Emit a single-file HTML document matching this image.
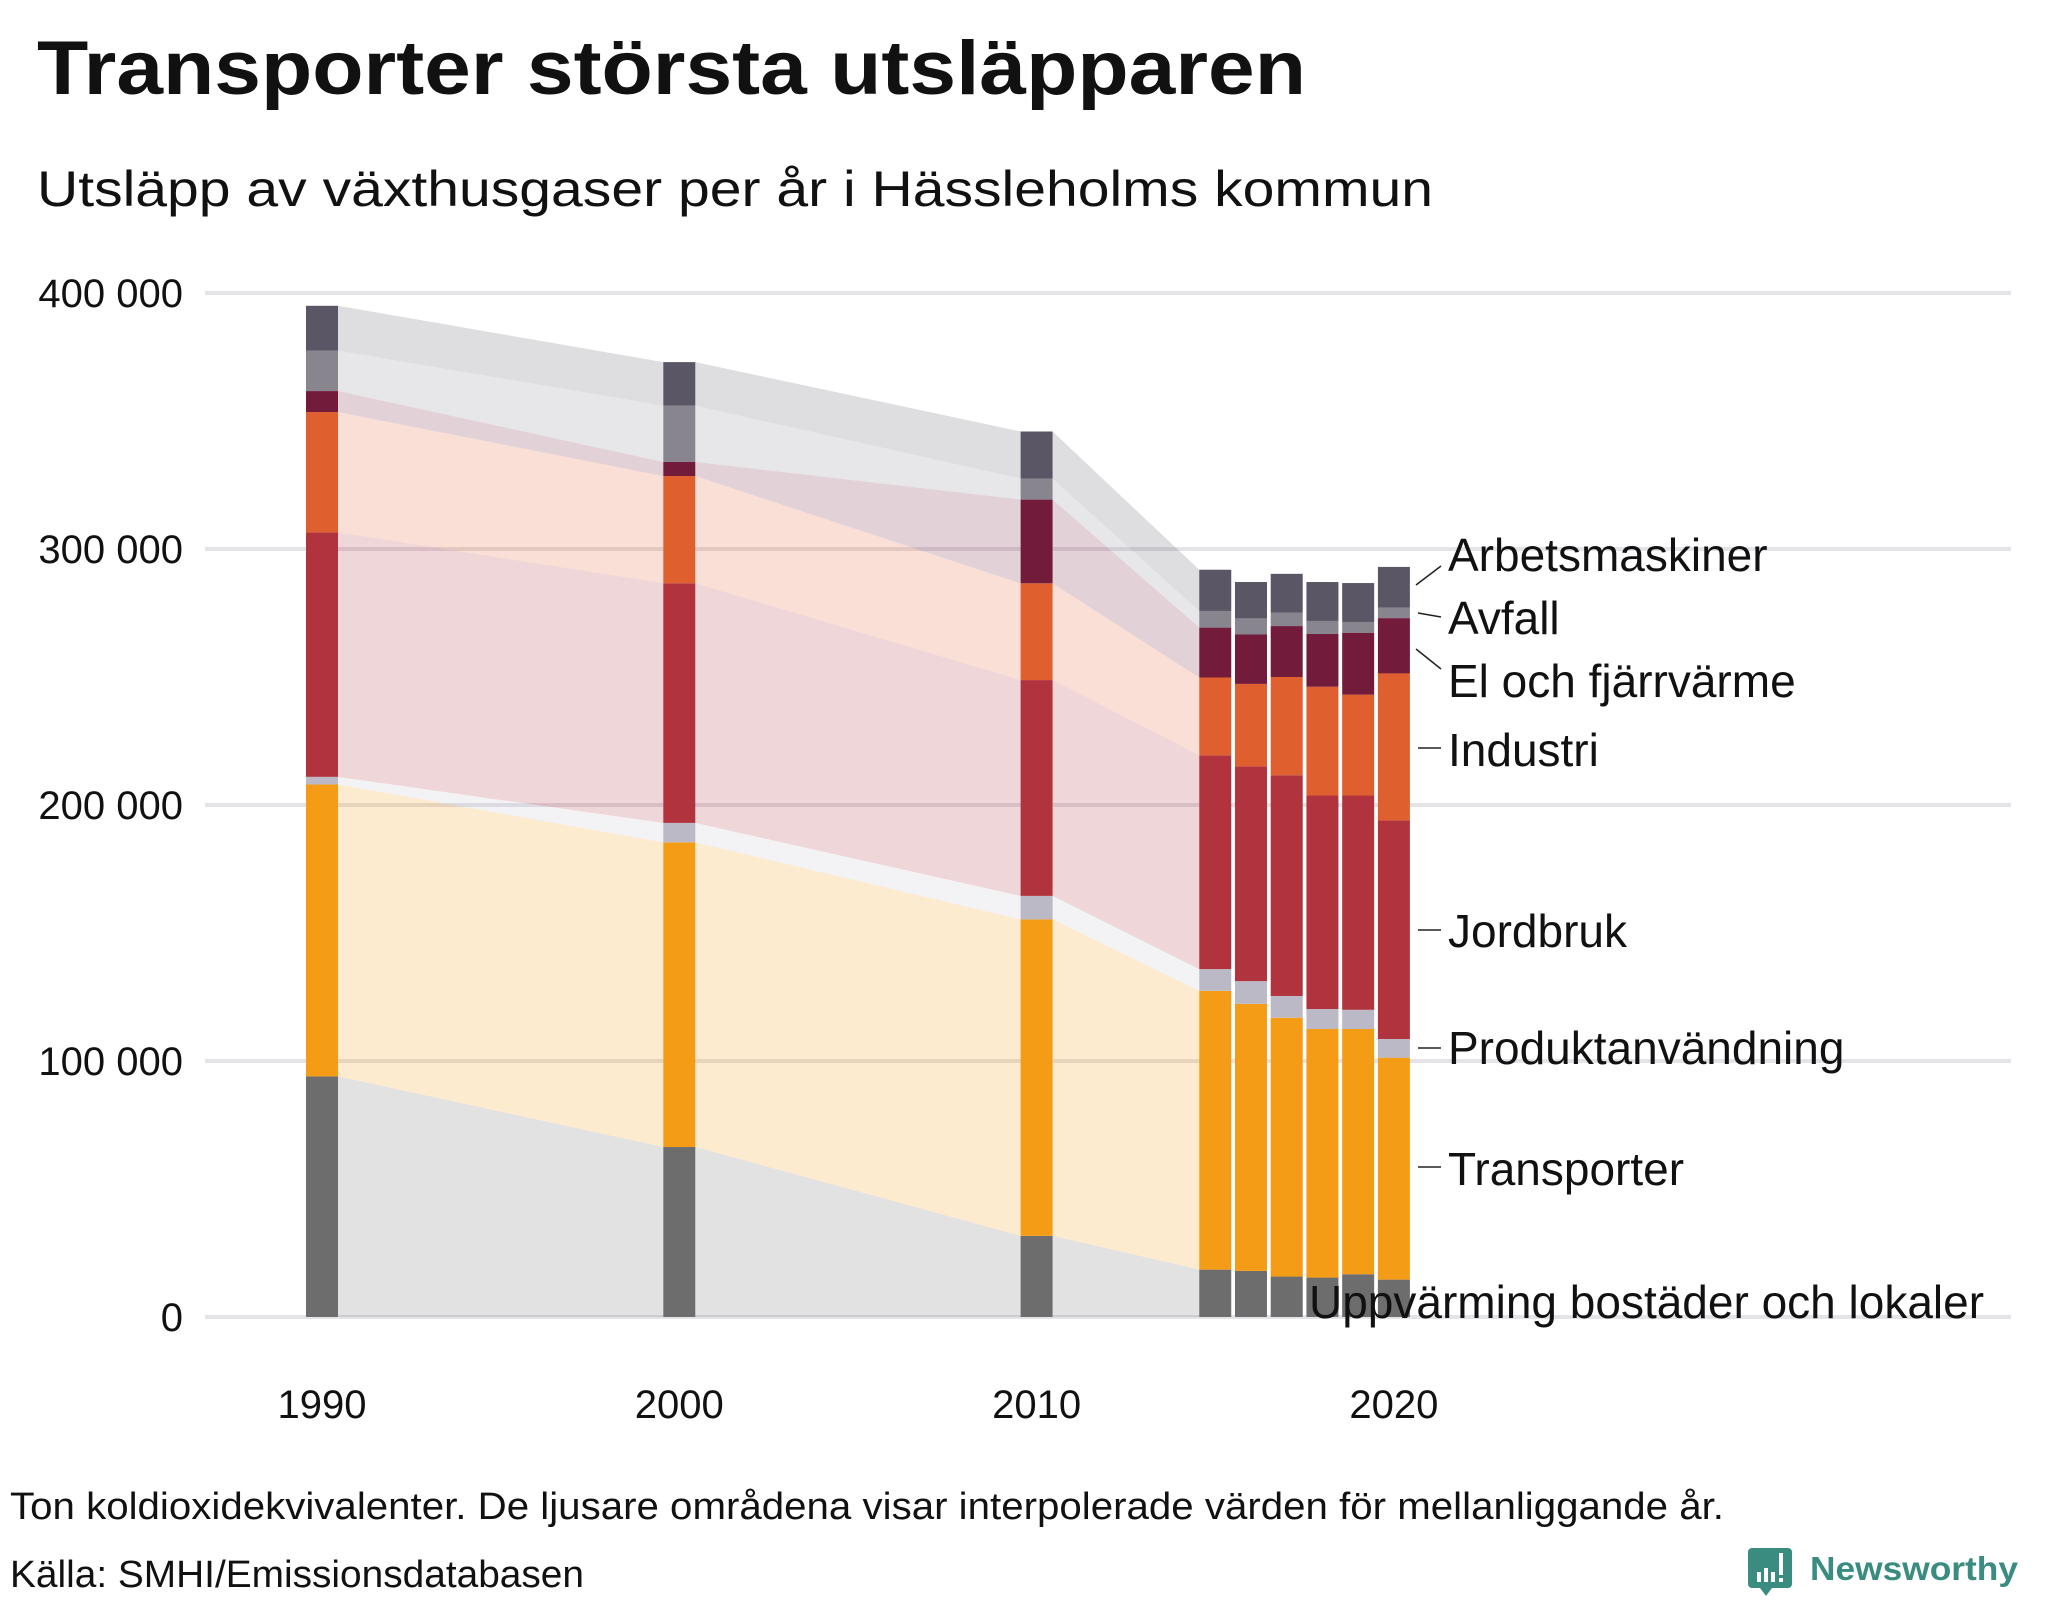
<!DOCTYPE html>
<html><head><meta charset="utf-8"><style>
html,body{margin:0;padding:0;background:#fff;}
svg{display:block;font-family:"Liberation Sans",sans-serif;}
</style></head><body>
<svg id="chart" width="2048" height="1600" viewBox="0 0 2048 1600" xmlns="http://www.w3.org/2000/svg">
<text x="37" y="94" font-size="76" font-weight="bold" fill="#111" textLength="1269" lengthAdjust="spacingAndGlyphs">Transporter största utsläpparen</text>
<text x="37" y="206" font-size="50" fill="#111" textLength="1396" lengthAdjust="spacingAndGlyphs">Utsläpp av växthusgaser per år i Hässleholms kommun</text>
<g id="grid"></g>
<g id="bands"></g>
<g id="bars"></g>
<g id="ylabels"></g>
<g id="xlabels"></g>
<g id="labels"></g>
<text x="10" y="1519" font-size="38" fill="#111" textLength="1714" lengthAdjust="spacingAndGlyphs">Ton koldioxidekvivalenter. De ljusare områdena visar interpolerade värden för mellanliggande år.</text>
<text x="10" y="1587" font-size="38" fill="#111" textLength="574" lengthAdjust="spacingAndGlyphs">Källa: SMHI/Emissionsdatabasen</text>
<g>
<path d="M1752 1548h36a4 4 0 0 1 4 4v32a4 4 0 0 1-4 4h-16l-6 8-6-8h-8a4 4 0 0 1-4-4v-32a4 4 0 0 1 4-4z" fill="#3a8c80"/>
<rect x="1757" y="1572" width="4" height="10" fill="#fff"/><rect x="1764" y="1568" width="4" height="14" fill="#fff"/><rect x="1771" y="1572" width="4" height="10" fill="#fff"/><rect x="1779" y="1553" width="4" height="22" fill="#fff"/><rect x="1779" y="1578" width="4" height="4" fill="#fff"/>
<text x="1810" y="1580" font-size="33" font-weight="bold" fill="#3a8c80" textLength="208" lengthAdjust="spacingAndGlyphs">Newsworthy</text>
</g>
</svg>
<script>
const years = [1990, 2000, 2010, 2015, 2016, 2017, 2018, 2019, 2020];
const seriesNames = ["Uppvärming bostäder och lokaler","Transporter","Produktanvändning","Jordbruk","Industri","El och fjärrvärme","Avfall","Arbetsmaskiner"];
const heating   = [94.0, 66.4, 31.7, 18.5, 18.0, 15.8, 15.4, 16.7, 14.6];
const transport = [114.0, 119.0, 123.6, 108.9, 104.3, 101.1, 97.1, 95.8, 86.7];
const product   = [3.0, 7.6, 9.2, 8.5, 8.9, 8.5, 7.8, 7.5, 7.3];
const farming   = [95.5, 93.6, 84.3, 83.5, 83.9, 86.2, 83.4, 83.7, 85.4];
const industry  = [47.0, 41.9, 37.8, 30.4, 32.2, 38.4, 42.5, 39.4, 57.4];
const power     = [8.2, 5.5, 32.7, 19.5, 19.3, 19.9, 20.6, 24.2, 21.6];
const waste     = [15.8, 22.0, 8.2, 6.5, 6.3, 5.2, 5.1, 4.2, 4.1];
const machines  = [17.5, 17.0, 18.4, 16.1, 14.2, 15.2, 15.2, 15.2, 15.9];
const yTicks = [0, 100, 200, 300, 400];
const yTickLabels = ["0", "100 000", "200 000", "300 000", "400 000"];
const xTicks = [1990, 2000, 2010, 2020];

const series = [heating, transport, product, farming, industry, power, waste, machines];
const colors = ["#6d6d6d","#f59c16","#bcb9c7","#b0333d","#e05f2e","#731b3a","#88858f","#5a5665"];
const keys = ["heating","transport","product-use","farming","industry","power-heat","waste","machinery"];
const NS = "http://www.w3.org/2000/svg";
const x = yr => 322 + (yr - 1990) * 35.73;
const y = v => 1317 - v * 2.56;
const BW = 32;
function mk(tag, attrs, parent){const e=document.createElementNS(NS,tag);for(const k in attrs)e.setAttribute(k,attrs[k]);parent.appendChild(e);return e;}
const grid=document.getElementById('grid'), bands=document.getElementById('bands'), bars=document.getElementById('bars');
const yl=document.getElementById('ylabels'), xl=document.getElementById('xlabels'), lab=document.getElementById('labels');
yTicks.forEach((t,i)=>{
  const l=mk('line',{x1:205,x2:2011,y1:y(t),y2:y(t),stroke:'#e4e3e8','stroke-width':4},grid);
  
  
  const tx=mk('text',{x:183,y:y(t)+14,'font-size':40,'text-anchor':'end',fill:'#111'},yl);
  tx.textContent=yTickLabels[i];
  
  
});
xTicks.forEach(t=>{
  const tx=mk('text',{x:x(t),y:1418,'font-size':40,'text-anchor':'middle',fill:'#111'},xl);
  tx.textContent=String(t);
  
  
});
const cum = years.map((_,j)=>{let s=0;return series.map(a=>{const b=s;s+=a[j];return [b,s];});});
for(let j=0;j<years.length-1;j++){
  const xa=x(years[j])+BW/2, xb=x(years[j+1])-BW/2;
  if(xb-xa<8) continue;
  series.forEach((a,i)=>{
    const [b0,t0]=cum[j][i], [b1,t1]=cum[j+1][i];
    const p=mk('polygon',{points:`${xa},${y(t0)} ${xb},${y(t1)} ${xb},${y(b1)} ${xa},${y(b0)}`,fill:colors[i],'fill-opacity':i===2?0.18:0.2},bands);
    
    
  });
}
years.forEach((yr,j)=>{
  series.forEach((a,i)=>{
    const [b,t]=cum[j][i];
    const r=mk('rect',{x:x(yr)-BW/2,y:y(t),width:BW,height:y(b)-y(t),fill:colors[i]},bars);
    
    
  });
});
const labelPos=[[1309,1318,null],[1448,1185,[1418,1167,1441,1167]],[1448,1064,[1418,1048,1441,1048]],[1448,947,[1418,930,1441,930]],[1448,766,[1418,748,1441,748]],[1448,697,[1416,649,1441,669]],[1448,634,[1418,613,1441,617]],[1448,571,[1416,585,1441,566]]];
seriesNames.forEach((n,i)=>{
  const [lx,ly,ln]=labelPos[i];
  const t=mk('text',{x:lx,y:ly,'font-size':46,fill:'#111'},lab);
  t.textContent=n;
  
  
  if(ln){const l=mk('line',{x1:ln[0],y1:ln[1],x2:ln[2],y2:ln[3],stroke:'#222','stroke-width':1.5},lab);
    
    }
});
</script>
</body></html>
